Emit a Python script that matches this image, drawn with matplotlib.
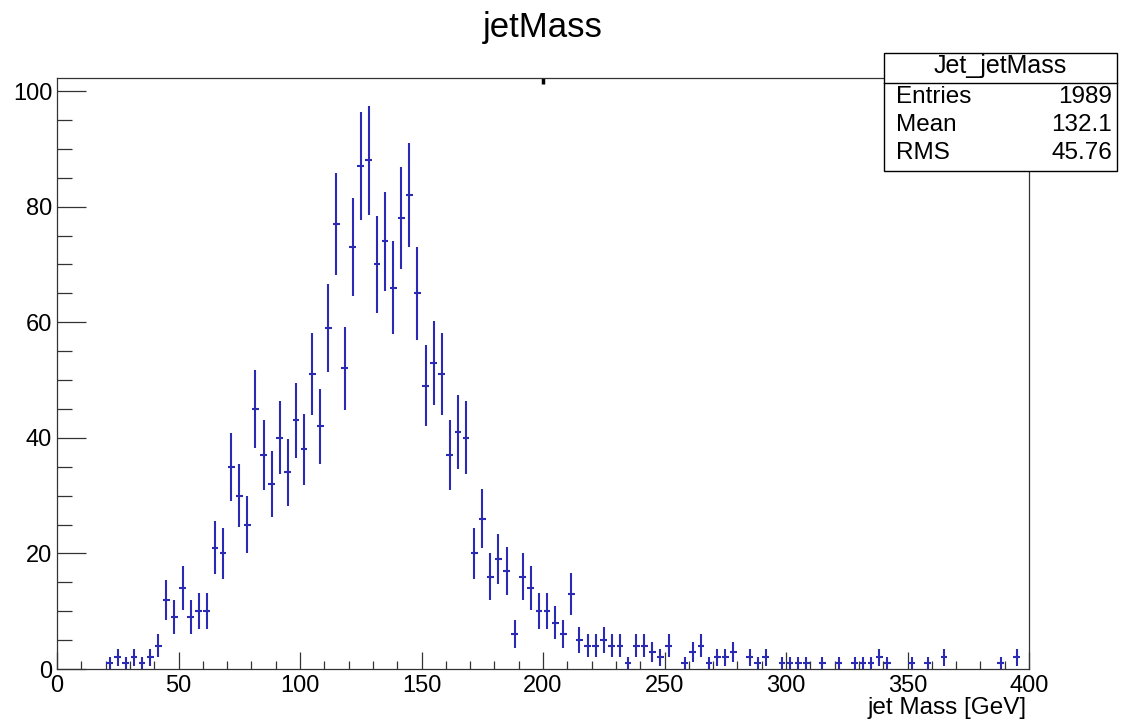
import numpy as np
import matplotlib
matplotlib.use("Agg")
import matplotlib.pyplot as plt
from matplotlib.patches import Rectangle
from matplotlib.lines import Line2D
from matplotlib.ticker import MultipleLocator

plt.rcParams['font.family'] = ['Liberation Sans', 'DejaVu Sans']

# ---- data ----
title = "jetMass"
x_label = "jet Mass [GeV]"
hist_name = "Jet_jetMass"
stat_names = ["Entries", "Mean", "RMS"]
stat_values = ["1989", "132.1", "45.76"]
x_min, x_max, n_bins = 0, 400, 120
counts = [
    0, 0, 0, 0, 0, 0,
    1, 2, 1, 2, 1, 2, 4,
    12, 9, 14, 9, 10, 10, 21, 20,
    35, 30, 25, 45, 37, 32, 40, 34, 43, 38,
    51, 42, 59, 77, 52, 73, 87, 88, 70, 74,
    66, 78, 82, 65, 49, 53, 51, 37, 41, 40,
    20, 26, 16, 19, 17, 6, 16, 14, 10, 10,
    8, 6, 13, 5, 4, 4, 5, 4, 4, 1,
    4, 4, 3, 2, 4, 0, 1, 3, 4, 1,
    2, 2, 3, 0, 2, 1, 2, 0, 1, 1,
    1, 1, 0, 1, 0, 1, 0, 1, 1, 1,
    2, 1, 0, 0, 1, 0, 1, 0, 2, 0,
    0, 0, 0, 0, 0, 1, 0, 2, 0,
]

W, H = 1122, 726
fig = plt.figure(figsize=(W / 100, H / 100), dpi=100)
ax_l, ax_r, ax_t, ax_b = 57, 1029, 78, 669
ax = fig.add_axes([ax_l / W, 1 - ax_b / H, (ax_r - ax_l) / W, (ax_b - ax_t) / H])

edges = np.linspace(x_min, x_max, n_bins + 1)
centers = 0.5 * (edges[:-1] + edges[1:])
cnt = np.array(counts, dtype=float)
mask = cnt > 0
bw = edges[1] - edges[0]
blue = '#2a2ab4'
ax.errorbar(centers[mask], cnt[mask], yerr=np.sqrt(cnt[mask]), xerr=0.42 * bw,
            fmt='none', ecolor=blue, elinewidth=1.5, capsize=0)

ymax = 1.05 * np.max(cnt + np.sqrt(cnt))
ax.set_xlim(x_min, x_max)
ax.set_ylim(0, ymax)

ax.xaxis.set_major_locator(MultipleLocator(50))
ax.xaxis.set_minor_locator(MultipleLocator(10))
ax.yaxis.set_major_locator(MultipleLocator(20))
ax.yaxis.set_minor_locator(MultipleLocator(5))
ax.tick_params(axis='x', which='major', direction='in', length=12.2, width=0.9,
               labelsize=17, pad=4, color='#333333')
ax.tick_params(axis='x', which='minor', direction='in', length=5.8, width=0.9, color='#333333')
ax.tick_params(axis='y', which='major', direction='in', length=21, width=0.9,
               labelsize=17, pad=3.5, color='#333333')
ax.tick_params(axis='y', which='minor', direction='in', length=10.8, width=0.9, color='#333333')
for s in ax.spines.values():
    s.set_linewidth(0.9)
    s.set_color('#333333')

# small mark at top edge
ax.plot([200, 200], [ymax, ymax - 1.1], color='black', lw=2.5, clip_on=False,
        solid_capstyle='butt')

fig.text(543 / W, 1 - 28 / H, title, ha='center', va='center', fontsize=25)
fig.text(1027 / W, 1 - 708 / H, x_label, ha='right', va='center', fontsize=17.5)

# stats box
bx0, bx1, by0, by1, sep = 884, 1117, 53, 171, 83
fig.add_artist(Rectangle((bx0 / W, 1 - by1 / H), (bx1 - bx0) / W, (by1 - by0) / H,
                         transform=fig.transFigure, facecolor='white',
                         edgecolor='black', lw=1.0, zorder=5))
fig.add_artist(Line2D([bx0 / W, bx1 / W], [1 - sep / H, 1 - sep / H],
                      transform=fig.transFigure, color='black', lw=1.0, zorder=6))
fig.text((bx0 + bx1) / 2 / W, 1 - 66 / H, hist_name, ha='center', va='center',
         fontsize=18, zorder=7)
row_y = [97, 125, 153]
for nm, val, yy in zip(stat_names, stat_values, row_y):
    fig.text(896 / W, 1 - yy / H, nm, ha='left', va='center', fontsize=17.5, zorder=7)
    fig.text(1112 / W, 1 - yy / H, val, ha='right', va='center', fontsize=17.5, zorder=7)

fig.savefig("out.png", dpi=100)
